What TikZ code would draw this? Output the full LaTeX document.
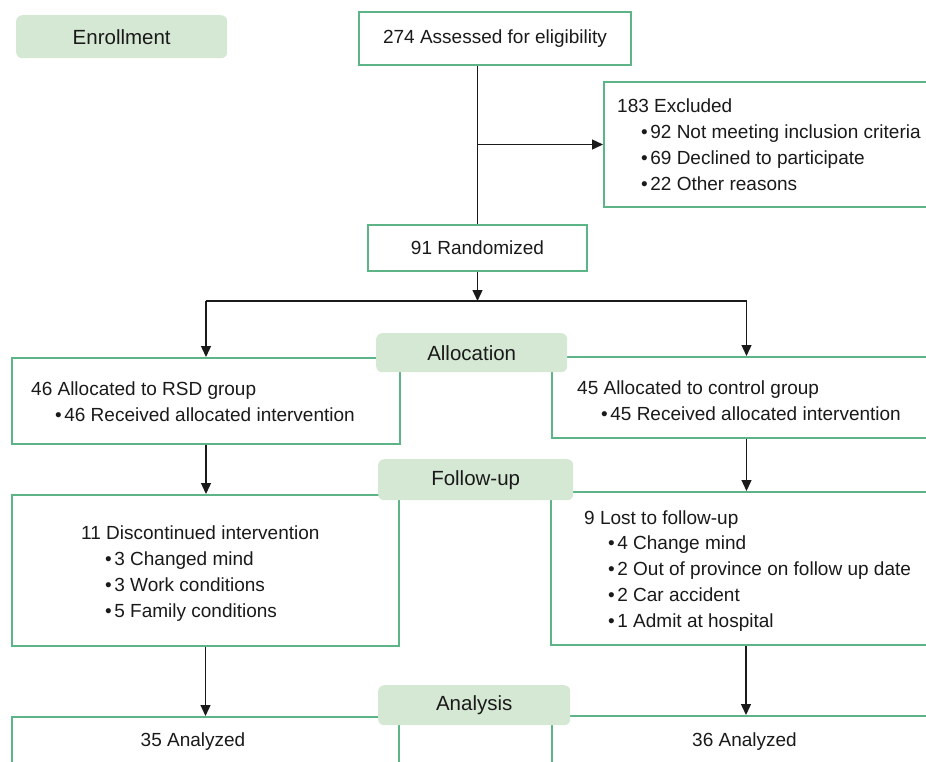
\documentclass[tikz,border=0pt]{standalone}
\usepackage{fontspec}
\setmainfont{Liberation Sans}
\usetikzlibrary{arrows.meta}
\definecolor{boxgreen}{HTML}{5DB486}
\definecolor{labfill}{HTML}{D5E8D4}
\definecolor{ink}{HTML}{1A1A1A}
\tikzset{
  box/.style={draw=boxgreen, line width=2pt, fill=white, rectangle, inner sep=0pt, anchor=north west,
              font=\fontsize{19}{26.3}\selectfont, text=ink},
  lab/.style={fill=labfill, rounded corners=6pt, inner sep=0pt, anchor=north west,
              font=\fontsize{20.5}{24}\selectfont, text=ink},
  txt/.style={font=\fontsize{19}{26.3}\selectfont, align=left, inner sep=0pt, anchor=north west, text=ink},
  ctxt/.style={font=\fontsize{19}{26.3}\selectfont, inner sep=0pt, text=ink},
  ln/.style={draw=ink, line width=1.3pt},
  arr/.style={draw=ink, line width=1.3pt, -{Triangle[length=11pt,width=10pt]}}
}
\newcommand{\bul}{\hspace*{24pt}\textbullet\hspace{2.5pt}}
\begin{document}
\begin{tikzpicture}[x=1pt,y=-1pt]
\useasboundingbox (0,0) rectangle (926,761);
\clip (0,0) rectangle (926,761);

% boxes
\node[box, minimum width=272, minimum height=53] (assess) at (358,11) {274 Assessed for eligibility};
\node[box, minimum width=337, minimum height=125] (excl) at (603,81) {};
\node[box, minimum width=219, minimum height=46] (rand) at (367,224) {91 Randomized};
\node[box, minimum width=388, minimum height=86] (allocL) at (11,357) {};
\node[box, minimum width=389, minimum height=81] (allocR) at (551,356) {};
\node[box, minimum width=387, minimum height=151] (followL) at (11,494) {};
\node[box, minimum width=390, minimum height=153] (followR) at (550,491) {};
\node[box, minimum width=387, minimum height=80] (botL) at (11,716) {};
\node[box, minimum width=389, minimum height=80] (botR) at (551,715) {};

% texts (first baseline = y + 13.9)
\node[txt] (excltxt) at (617,98.1) {183 Excluded\\
  \bul 92 Not meeting inclusion criteria\\
  \bul 69 Declined to participate\\
  \bul 22 Other reasons};
\node[txt] (alloclt) at (31,381.1) {46 Allocated to RSD group\\
  \bul 46 Received allocated intervention};
\node[txt] (allocrt) at (577,380.1) {45 Allocated to control group\\
  \bul 45 Received allocated intervention};
\node[txt] (followlt) at (81,525.1) {11 Discontinued intervention\\
  \bul 3 Changed mind\\
  \bul 3 Work conditions\\
  \bul 5 Family conditions};
\node[txt, font=\fontsize{19}{25.8}\selectfont] (followrt) at (584,510.1) {9 Lost to follow-up\\
  \bul 4 Change mind\\
  \bul 2 Out of province on follow up date\\
  \bul 2 Car accident\\
  \bul 1 Admit at hospital};
\node[ctxt] (botlt) at (193,742) {35 Analyzed};
\node[ctxt] (botrt) at (744.5,742) {36 Analyzed};

% connectors
\coordinate (top) at (rand.north |- assess.south);
\coordinate (br) at (rand.north |- excl.west);
\coordinate (split) at (476,301);
\draw[ln] (top) -- (rand.north);
\draw[arr] (br) -- (excl.west);
\draw[arr] (rand.south) -- (rand.south |- split);
\draw[ln] (split -| allocL.north) -- (split -| allocR.north);
\draw[arr] (split -| allocL.north) -- (allocL.north);
\draw[arr] (split -| allocR.north) -- (allocR.north);
\draw[arr] (allocL.south) -- (allocL.south |- followL.north);
\draw[arr] (allocR.south) -- (allocR.south |- followR.north);
\draw[arr] (followL.south) -- (followL.south |- botL.north);
\draw[arr] (followR.south) -- (followR.south |- botR.north);

% stage labels
\node[lab, minimum width=211, minimum height=43] (enroll) at (16,15) {Enrollment};
\node[lab, minimum width=191, minimum height=39] (allocation) at (376,333) {Allocation};
\node[lab, minimum width=195, minimum height=41] (followup) at (378,459) {Follow-up};
\node[lab, minimum width=192, minimum height=40] (analysis) at (378,685) {Analysis};
\end{tikzpicture}
\end{document}
